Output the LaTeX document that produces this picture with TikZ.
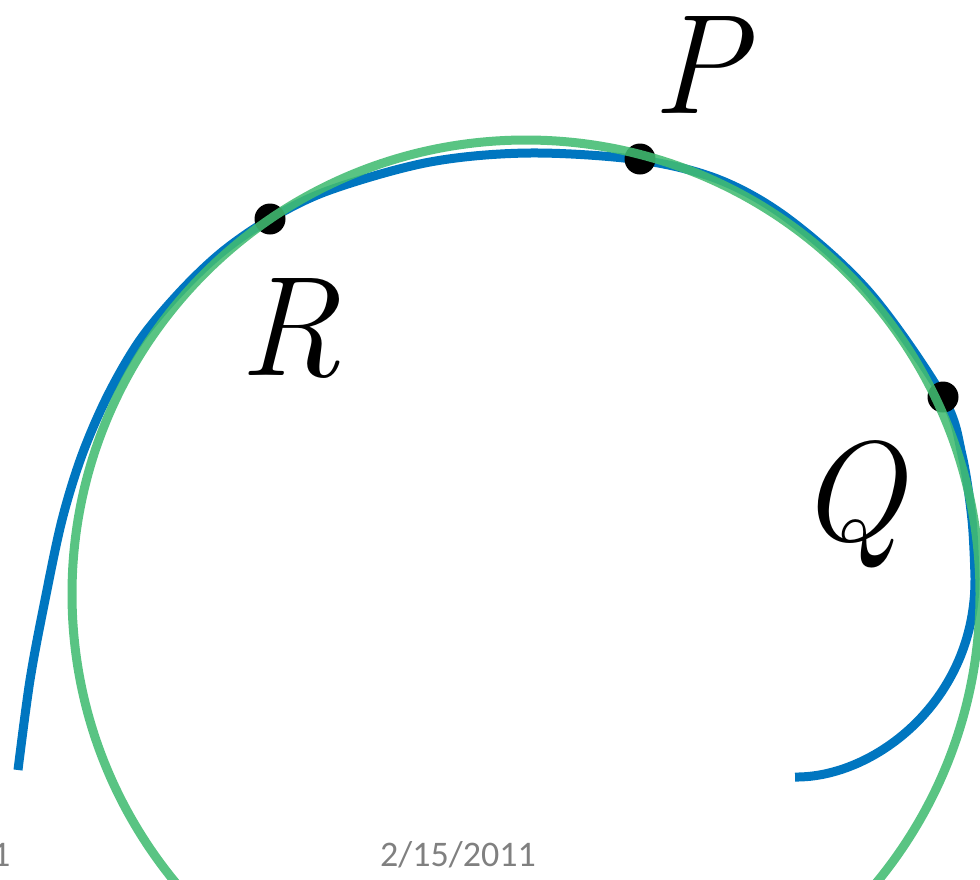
\documentclass[tikz,border=0pt]{standalone}
\usepackage{fontspec}
\newfontfamily\footfont{Carlito}
\usetikzlibrary{positioning}
\definecolor{curveblue}{RGB}{0,118,192}
\definecolor{circgreen}{RGB}{66,188,114}
\definecolor{footgray}{RGB}{128,128,128}

\begin{document}
\begin{tikzpicture}[
    x=1pt, y=-1pt,
    spiral/.style={curveblue, line width=9pt},
    osc/.style={circgreen, line width=9pt, opacity=0.88},
    dot/.style={circle, fill=black, inner sep=0pt, minimum size=31pt},
    lab/.style={font=\fontsize{142}{142}\selectfont\itshape, inner sep=0pt, anchor=base},
    foot/.style={font=\fontsize{36}{36}\selectfont\footfont, text=footgray, inner sep=0pt}
]
    \useasboundingbox (0,0) rectangle (980,879);

    % blue curve
    \coordinate (tail) at (795,777);
    \draw[spiral] plot[smooth, tension=0.55] coordinates {
        (18,770) (30,680) (45,600) (62,520) (82,455) (108,395) (140,340)
        (180,292) (222,252) (270,219) (330,190) (430,162) (530,153)
        (640,160) (720,180) (790,220) (870,293) (943,397) (962,455)
        (972,520) (975,578)}
        .. controls (976,700) and (875,778) .. (tail);

    % points
    \node[dot] (R) at (270,219) {};
    \node[dot] (P) at (640,159) {};
    \node[dot] (Q) at (943,397) {};

    % green circle
    \draw[osc] (526,594) circle[radius=454];

    % labels
    \node[lab] (Plab) at (700,113) {P};
    \node[lab] (Rlab) at (290,375) {R};
    \node[lab] (Qlab) at (851,540) {Q};

    \node[foot, anchor=west] (num) at (-8,855) {1};
    \node[foot] (date) at (458,855) {2/15/2011};
\end{tikzpicture}
\end{document}
